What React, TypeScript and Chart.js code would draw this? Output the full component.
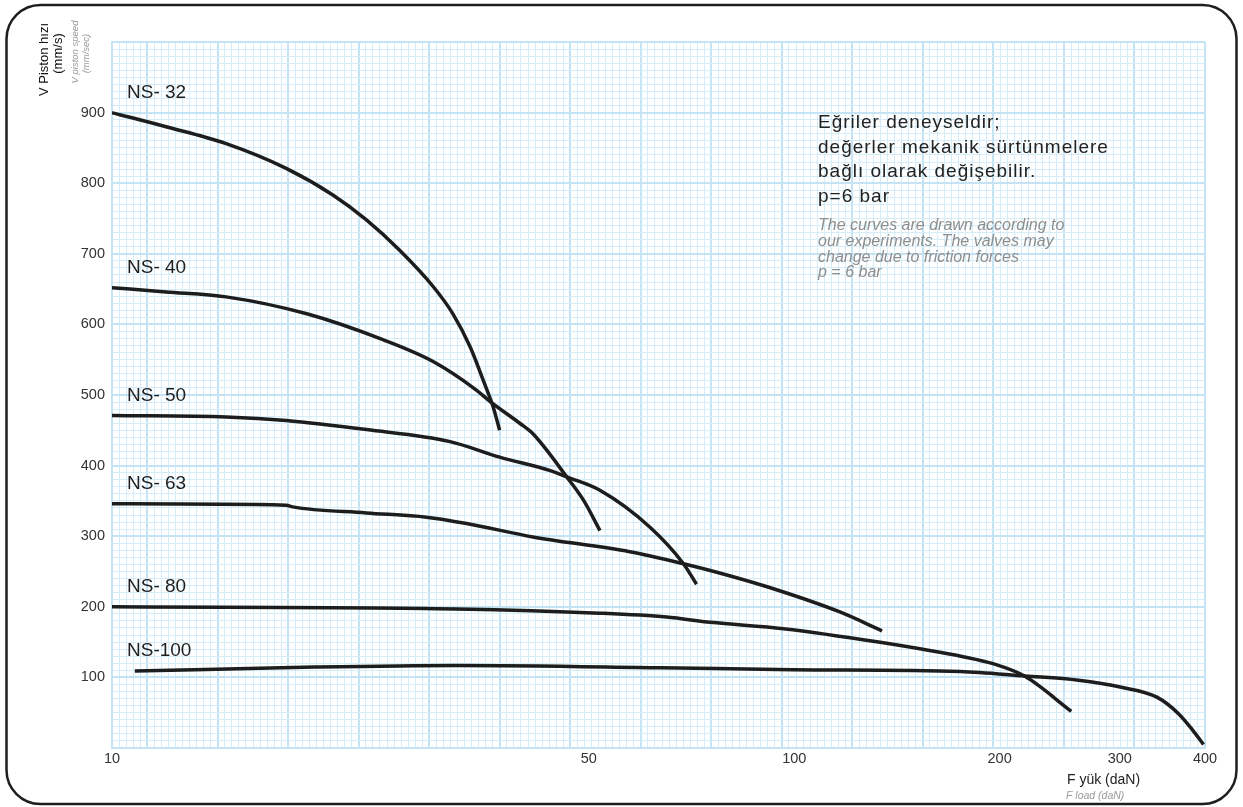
import { useEffect, useRef } from 'react';
import { Chart, registerables } from 'chart.js';

Chart.register(...registerables);

// ---- Data (load F in daN, piston speed V in mm/s) ----
const xTickValues = [10, 50, 100, 200, 300, 400];
const seriesNames = ['NS- 32', 'NS- 40', 'NS- 50', 'NS- 63', 'NS- 80', 'NS-100'];

const ns32Load = [10, 12.0, 14.7, 18.0, 21.1, 23.6, 26.4, 29.6, 31.6, 33.5, 35.0, 36.2, 37.0];
const ns32Speed = [900, 880, 856, 821, 783, 748, 705, 653, 615, 568, 521, 483, 450];

const ns40Load = [10, 12.0, 14.7, 19.3, 25.0, 29.6, 34.2, 35.8, 39.6, 41.4, 46.4, 49.1, 51.9];
const ns40Speed = [652, 646, 639, 615, 578, 547, 507, 491, 460, 445, 384, 351, 308];

const ns50Load = [10, 14.7, 18.0, 23.6, 31.3, 37.0, 43.9, 46.4, 51.9, 61.4, 68.8, 71.9];
const ns50Speed = [471, 469, 464, 451, 434, 412, 393, 384, 365, 313, 261, 232];

const ns63Load = [10, 18.0, 18.4, 23.6, 28.9, 33.1, 41.4, 57.4, 68.8, 77.0, 91.5, 116.4, 134.5];
const ns63Speed = [346, 344, 341.5, 333, 327, 318, 299, 278, 261, 249, 228, 193, 166];

const ns80Load = [10, 32.0, 51.9, 65.0, 75.4, 96.4, 132.9, 177.5, 195.5, 217.8, 254.7];
const ns80Speed = [200, 197, 191, 185.5, 178, 169, 150, 129, 119.5, 101.5, 52];

const ns100Load = [10.8, 19.8, 32.0, 63.6, 99.5, 175.3, 217.8, 261, 301.6, 340, 365.8, 383.9, 398];
const ns100Speed = [109, 114.7, 117, 113.8, 111, 108.5, 102, 96, 86, 72, 48.6, 25, 5];

const noteLines = ['Eğriler deneyseldir;', 'değerler mekanik sürtünmelere', 'bağlı olarak değişebilir.', 'p=6 bar'];
const noteLinesEn = ['The curves are drawn according to', 'our experiments. The valves may', 'change due to friction forces', 'p = 6 bar'];

const FONT = '"Liberation Sans", Arial, Helvetica, sans-serif';
const GRID_MINOR = '#d5edf9';
const GRID_MAJOR = '#c4e4f5';

export default function App() {
  const ref = useRef<HTMLCanvasElement>(null);

  useEffect(() => {
    const canvas = ref.current;
    if (!canvas) return;
    const loads = [ns32Load, ns40Load, ns50Load, ns63Load, ns80Load, ns100Load];
    const speeds = [ns32Speed, ns40Speed, ns50Speed, ns63Speed, ns80Speed, ns100Speed];

    const datasets = seriesNames.map((name, i) => ({
      label: name,
      data: loads[i].map((x, j) => ({ x, y: speeds[i][j] })),
      borderColor: '#1d1d1d',
      borderWidth: 3.5,
      pointRadius: 0,
      fill: false,
      cubicInterpolationMode: 'monotone' as const,
      xAxisID: 'x',
      yAxisID: 'y',
    }));

    const decor = {
      id: 'decor',
      beforeDraw(chart: any) {
        const c = chart.ctx;
        c.save();
        c.fillStyle = '#ffffff';
        c.fillRect(0, 0, chart.width, chart.height);
        c.restore();
      },
      afterDraw(chart: any) {
        const c = chart.ctx;
        const a = chart.chartArea;
        c.save();
        // curve labels above each curve start
        c.fillStyle = '#1f1f1f';
        c.font = `19px ${FONT}`;
        c.textBaseline = 'middle';
        c.textAlign = 'left';
        chart.data.datasets.forEach((ds: any, i: number) => {
          const meta = chart.getDatasetMeta(i);
          const p = meta.data[0];
          c.fillText(ds.label, a.left + 15, p.y - 20);
        });
        // note block
        c.font = `19px ${FONT}`;
        (c as any).letterSpacing = '1px';
        c.fillStyle = '#222';
        noteLines.forEach((t, i) => c.fillText(t, 818, 123 + i * 24.6));
        (c as any).letterSpacing = '0px';
        c.font = `italic 16px ${FONT}`;
        c.fillStyle = '#8e8e8e';
        noteLinesEn.forEach((t, i) => c.fillText(t, 818, 226 + i * 15.6));

        // y axis title (rotated)
        const rot = (text: string, x: number, y: number, font: string, color: string) => {
          c.save();
          c.translate(x, y);
          c.rotate(-Math.PI / 2);
          c.font = font;
          c.fillStyle = color;
          c.textAlign = 'center';
          c.textBaseline = 'middle';
          c.fillText(text, 0, 0);
          c.restore();
        };
        rot('V Piston hızı', 44, 59.5, `13px ${FONT}`, '#111');
        rot('(mm/s)', 58, 53.5, `13px ${FONT}`, '#111');
        rot('V piston speed', 75, 52, `italic 9.5px ${FONT}`, '#999');
        rot('(mm/sec)', 86, 53.5, `italic 9.5px ${FONT}`, '#999');

        // x axis title
        c.textAlign = 'left';
        c.font = `14px ${FONT}`;
        c.fillStyle = '#222';
        c.fillText('F yük (daN)', 1067, 780);
        c.font = `italic 10.5px ${FONT}`;
        c.fillStyle = '#999';
        c.fillText('F load (daN)', 1066, 796);

        // rounded frame
        c.strokeStyle = '#1e1e1e';
        c.lineWidth = 2.5;
        c.beginPath();
        c.roundRect(6.5, 5, 1230, 799, 34);
        c.stroke();
        c.restore();
      },
    };

    const chart = new Chart(canvas, {
      type: 'line',
      data: { datasets },
      options: {
        animation: false,
        responsive: false,
        maintainAspectRatio: false,
        layout: { padding: { left: 0, right: 38, top: 0, bottom: 0 } },
        plugins: { legend: { display: false }, tooltip: { enabled: false } },
        elements: { line: { borderCapStyle: 'butt', borderJoinStyle: 'round' } },
        scales: {
          x: {
            type: 'logarithmic',
            position: 'bottom',
            min: 10,
            max: 400,
            afterBuildTicks: (scale: any) => {
              scale.ticks = xTickValues.map((v) => ({ value: v }));
            },
            afterFit: (scale: any) => {
              scale.height = 59;
            },
            grid: { display: false, drawTicks: false },
            border: { display: true, color: GRID_MAJOR, width: 2 },
            ticks: {
              autoSkip: false,
              maxRotation: 0,
              padding: 2,
              color: '#333',
              font: { family: FONT, size: 14.5 },
              callback: (v: any) => String(v),
            },
          },
          x2: {
            type: 'linear',
            position: 'top',
            min: -5,
            max: 150,
            afterFit: (scale: any) => {
              scale.height = 42;
            },
            ticks: { display: false, stepSize: 1, autoSkip: false },
            grid: {
              drawTicks: false,
              color: (ctx: any) => (ctx.tick && ctx.tick.value % 10 === 0 ? GRID_MAJOR : GRID_MINOR),
              lineWidth: (ctx: any) => (ctx.tick && ctx.tick.value % 10 === 0 ? 2 : 1),
            },
            border: { display: false },
          },
          y: {
            type: 'linear',
            position: 'left',
            min: 0,
            max: 1000,
            afterFit: (scale: any) => {
              scale.width = 112;
            },
            ticks: {
              stepSize: 10,
              autoSkip: false,
              padding: 7,
              color: '#333',
              font: { family: FONT, size: 14.5 },
              callback: (v: any) => (v % 100 === 0 && v > 0 && v < 1000 ? String(v) : ''),
            },
            grid: {
              drawTicks: false,
              color: (ctx: any) => (ctx.tick && ctx.tick.value % 100 === 0 ? GRID_MAJOR : GRID_MINOR),
              lineWidth: (ctx: any) => (ctx.tick && ctx.tick.value % 100 === 0 ? 2 : 1),
            },
            border: { display: true, color: GRID_MAJOR, width: 2 },
          },
        },
      } as any,
      plugins: [decor],
    });

    return () => chart.destroy();
  }, []);

  return (
    <div style={{ position: 'absolute', left: 0, top: 0, width: 1243, height: 807 }}>
      <canvas ref={ref} width={1243} height={807} style={{ display: 'block' }} />
    </div>
  );
}
